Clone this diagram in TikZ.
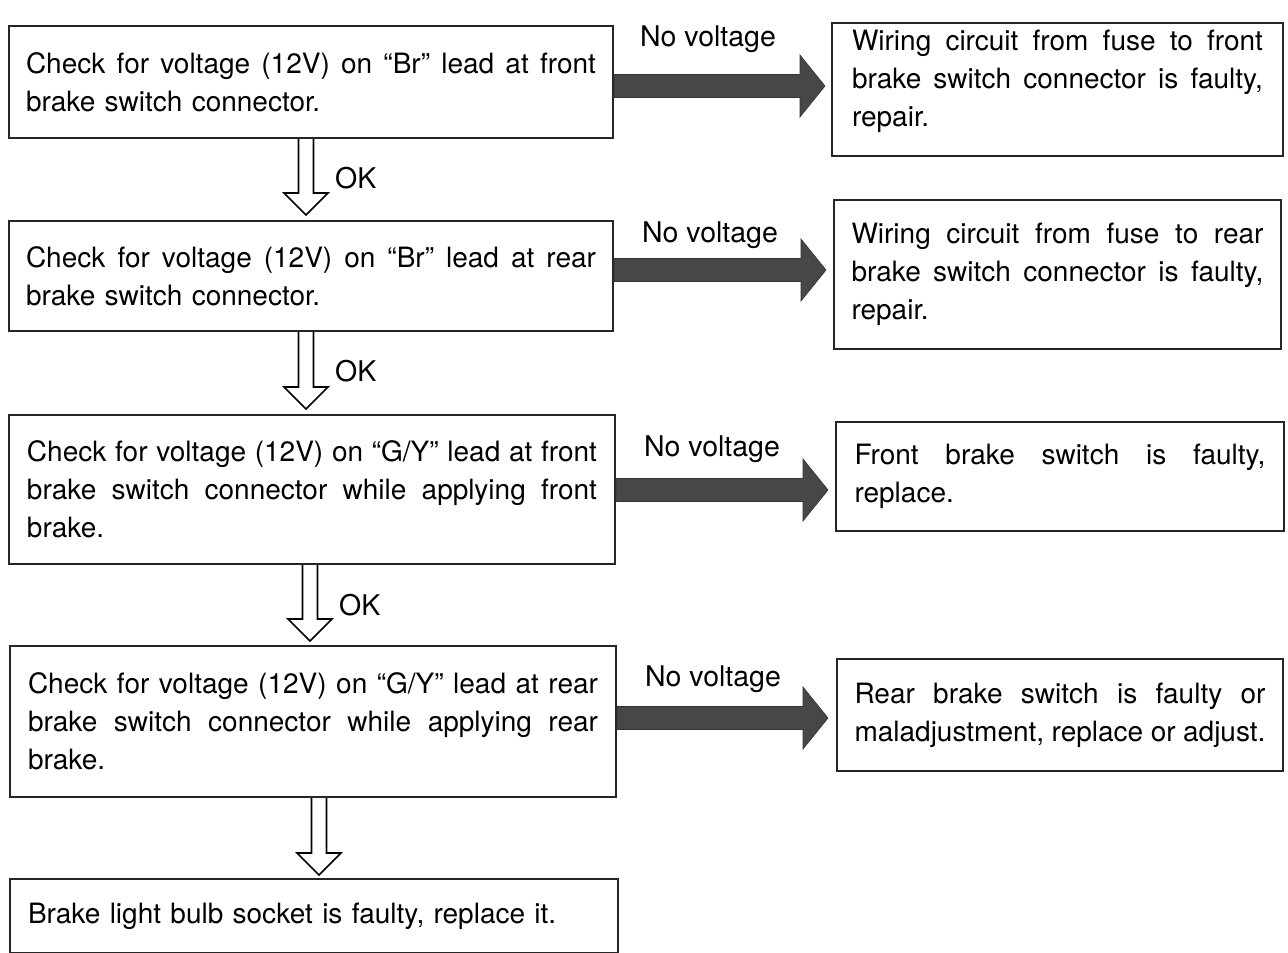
\documentclass[tikz,border=0pt]{standalone}
\usepackage{fontspec}
\setmainfont{TeX Gyre Heros}
\usetikzlibrary{calc}
\newcommand\jlast[1]{\makebox[\hsize][s]{\spaceskip=.278em plus 1fil minus .1em\relax #1}}
\newcommand\jl[1]{\jlast{#1}\\}
\begin{document}
\begin{tikzpicture}[x=1pt,y=-1pt,
  box/.style={draw=black!85,line width=2pt,anchor=north west,inner sep=0pt,
    font=\fontsize{28}{38}\selectfont,align=left},
  lbl/.style={font=\fontsize{28.5}{34}\selectfont,inner sep=0pt},
  fatfill/.style={fill=black!72,draw=black!80,line width=0.6pt},
  hollow/.style={draw=black,line width=1.6pt,fill=white,line join=miter}]
\useasboundingbox (0,0) rectangle (1288,953);
\newcommand\fatarr[2]{%
  \filldraw[fatfill] ($(#1)+(0,11.5)$) -- ($(#2)+(-25,11.5)$) -- ($(#2)+(-25,31)$) -- (#2)
   -- ($(#2)+(-25,-31)$) -- ($(#2)+(-25,-11.5)$) -- ($(#1)+(0,-11.5)$) -- cycle;}
\newcommand\holarr[2]{%
  \draw[hollow] ($(#1)+(-7.5,0)$) -- ($(#2)+(-7.5,-22)$) -- ($(#2)+(-22,-22)$) -- (#2)
   -- ($(#2)+(22,-22)$) -- ($(#2)+(7.5,-22)$) -- ($(#1)+(7.5,0)$);}
% left boxes
\node[box,minimum width=604pt,minimum height=112pt,text width=570pt,xshift=-2pt] (L1) at (10,25)
  {\jl{Check for voltage (12V) on “Br” lead at front}brake switch connector.};
\node[box,minimum width=604pt,minimum height=110pt,text width=570pt] (L2) at (8,220)
  {\jl{Check for voltage (12V) on “Br” lead at rear}brake switch connector.};
\node[box,minimum width=606pt,minimum height=149pt,text width=570pt] (L3) at (8,414)
  {\jl{Check for voltage (12V) on “G/Y” lead at front}\jl{brake switch connector while applying front}brake.};
\node[box,minimum width=606pt,minimum height=151pt,text width=570pt] (L4) at (9,645)
  {\jl{Check for voltage (12V) on “G/Y” lead at rear}\jl{brake switch connector while applying rear}brake.};
\node[box,minimum width=608pt,minimum height=74pt,text width=572pt] (B) at (9,878)
  {Brake light bulb socket is faulty, replace it.};
% right boxes
\node[box,minimum width=451pt,minimum height=133pt] (R1) at (831,22)
  {\raisebox{8pt}[\height][\depth]{\parbox{411pt}{\raggedright
   \jl{Wiring circuit from fuse to front}\jl{brake switch connector is faulty,}repair.}}};
\node[box,minimum width=447pt,minimum height=149pt,text width=412pt] (R2) at (833,199)
  {\jl{Wiring circuit from fuse to rear}\jl{brake switch connector is faulty,}repair.};
\node[box,minimum width=448pt,minimum height=109pt,text width=411pt] (R3) at (835,421)
  {\jl{Front brake switch is faulty,}replace.};
\node[box,minimum width=446pt,minimum height=112pt,text width=411pt] (R4) at (836,658)
  {\jl{Rear brake switch is faulty or}\jlast{maladjustment, replace or adjust.}};
% horizontal fat arrows
\coordinate (y1) at (0,86);
\coordinate (y2) at (0,270);
\coordinate (y3) at (0,490);
\coordinate (y4) at (0,718);
\coordinate (e1) at ($(R1.west |- y1)+(-6,0)$);
\coordinate (e2) at ($(R2.west |- y2)+(-7,0)$);
\coordinate (e3) at ($(R3.west |- y3)+(-7,0)$);
\coordinate (e4) at ($(R4.west |- y4)+(-8,0)$);
\coordinate (s1) at (L1.east |- y1);
\coordinate (s2) at (L2.east |- y2);
\coordinate (s3) at (L3.east |- y3);
\coordinate (s4) at (L4.east |- y4);
\fatarr{s1}{e1}
\fatarr{s2}{e2}
\fatarr{s3}{e3}
\fatarr{s4}{e4}
\node[lbl] (n1) at (708,39) {No voltage};
\node[lbl] (n2) at (710,235) {No voltage};
\node[lbl] (n3) at (712,449) {No voltage};
\node[lbl] (n4) at (713,679) {No voltage};
% vertical hollow arrows
\coordinate (x1) at (306,0);
\coordinate (x2) at (306,0);
\coordinate (x3) at (310,0);
\coordinate (x4) at (319,0);
\coordinate (d1s) at (L1.south -| x1);
\coordinate (d1e) at ($(L2.north -| x1)+(0,-5)$);
\coordinate (d2s) at (L2.south -| x2);
\coordinate (d2e) at ($(L3.north -| x2)+(0,-5)$);
\coordinate (d3s) at (L3.south -| x3);
\coordinate (d3e) at ($(L4.north -| x3)+(0,-4)$);
\coordinate (d4s) at (L4.south -| x4);
\coordinate (d4e) at ($(B.north -| x4)+(0,-3)$);
\holarr{d1s}{d1e}
\holarr{d2s}{d2e}
\holarr{d3s}{d3e}
\holarr{d4s}{d4e}
\node[lbl,anchor=west] (ok1) at (335,178) {OK};
\node[lbl,anchor=west] (ok2) at (335,371) {OK};
\node[lbl,anchor=west] (ok3) at (339,605) {OK};
\end{tikzpicture}
\end{document}
